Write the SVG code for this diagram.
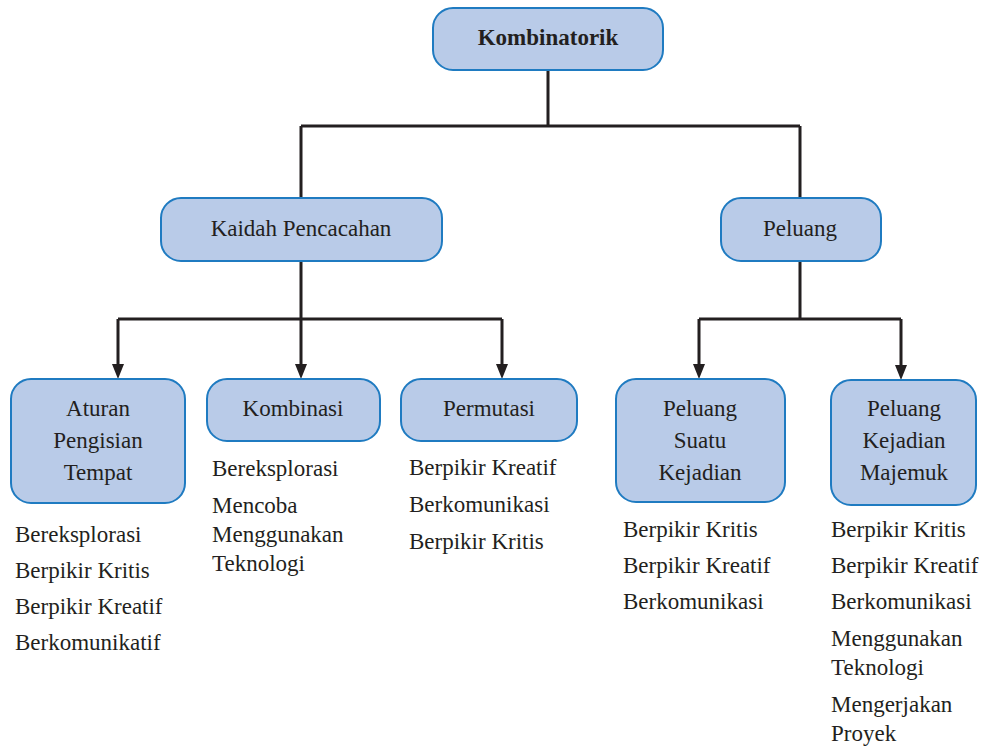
<svg xmlns="http://www.w3.org/2000/svg" width="993" height="747" viewBox="0 0 993 747">
<style>
.box{fill:#b9cbe8;stroke:#1f7bc1;stroke-width:2}
.ln{fill:none;stroke:#231f20;stroke-width:3}
</style>
<defs>
<path id="tri" d="M-6,-15 L6,-15 L0,0 Z" fill="#231f20"/>
</defs>
<rect width="993" height="747" fill="#fff"/>
<g id="connectors">
<path class="ln" d="M548,70 V126 M301,126 H800 M301,126 V198 M800,126 V198"/>
<path class="ln" d="M301,261 V319 M118,319 H502 M118,319 V366 M301,319 V366 M502,319 V366"/>
<path class="ln" d="M800,261 V319 M699,319 H901 M699,319 V366 M901,319 V366"/>
<use href="#tri" x="118" y="379"/>
<use href="#tri" x="301" y="379"/>
<use href="#tri" x="502" y="379"/>
<use href="#tri" x="699" y="379"/>
<use href="#tri" x="901" y="380"/>
</g>
<g id="kombinatorik">
<rect class="box" x="433" y="8" width="230" height="62" rx="20"/>
<text x="548" y="45" text-anchor="middle" font-weight="bold" font-family="Liberation Serif" font-size="23" fill="#231f20">Kombinatorik</text>
</g>
<g id="kaidah">
<rect class="box" x="161" y="198" width="281" height="63" rx="20"/>
<text x="301" y="236" text-anchor="middle" font-family="Liberation Serif" font-size="23" fill="#231f20">Kaidah Pencacahan</text>
</g>
<g id="peluang">
<rect class="box" x="721" y="198" width="160" height="63" rx="20"/>
<text x="800" y="236" text-anchor="middle" font-family="Liberation Serif" font-size="23" fill="#231f20">Peluang</text>
</g>
<g id="aturan">
<rect class="box" x="11" y="379" width="174" height="124" rx="20"/>
<text x="98" y="416" text-anchor="middle" font-family="Liberation Serif" font-size="23" fill="#231f20">Aturan</text>
<text x="98" y="448" text-anchor="middle" font-family="Liberation Serif" font-size="23" fill="#231f20">Pengisian</text>
<text x="98" y="480" text-anchor="middle" font-family="Liberation Serif" font-size="23" fill="#231f20">Tempat</text>
<text x="15" y="542" font-family="Liberation Serif" font-size="23" fill="#231f20">Bereksplorasi</text>
<text x="15" y="578" font-family="Liberation Serif" font-size="23" fill="#231f20">Berpikir Kritis</text>
<text x="15" y="614" font-family="Liberation Serif" font-size="23" fill="#231f20">Berpikir Kreatif</text>
<text x="15" y="650" font-family="Liberation Serif" font-size="23" fill="#231f20">Berkomunikatif</text>
</g>
<g id="kombinasi">
<rect class="box" x="207" y="379" width="173" height="62" rx="20"/>
<text x="293" y="416" text-anchor="middle" font-family="Liberation Serif" font-size="23" fill="#231f20">Kombinasi</text>
<text x="212" y="476" font-family="Liberation Serif" font-size="23" fill="#231f20">Bereksplorasi</text>
<text x="212" y="513" font-family="Liberation Serif" font-size="23" fill="#231f20">Mencoba</text>
<text x="212" y="542" font-family="Liberation Serif" font-size="23" fill="#231f20">Menggunakan</text>
<text x="212" y="571" font-family="Liberation Serif" font-size="23" fill="#231f20">Teknologi</text>
</g>
<g id="permutasi">
<rect class="box" x="401" y="379" width="176" height="62" rx="20"/>
<text x="489" y="416" text-anchor="middle" font-family="Liberation Serif" font-size="23" fill="#231f20">Permutasi</text>
<text x="409" y="475" font-family="Liberation Serif" font-size="23" fill="#231f20">Berpikir Kreatif</text>
<text x="409" y="512" font-family="Liberation Serif" font-size="23" fill="#231f20">Berkomunikasi</text>
<text x="409" y="549" font-family="Liberation Serif" font-size="23" fill="#231f20">Berpikir Kritis</text>
</g>
<g id="suatu">
<rect class="box" x="616" y="379" width="169" height="123" rx="20"/>
<text x="700" y="416" text-anchor="middle" font-family="Liberation Serif" font-size="23" fill="#231f20">Peluang</text>
<text x="700" y="448" text-anchor="middle" font-family="Liberation Serif" font-size="23" fill="#231f20">Suatu</text>
<text x="700" y="480" text-anchor="middle" font-family="Liberation Serif" font-size="23" fill="#231f20">Kejadian</text>
<text x="623" y="537" font-family="Liberation Serif" font-size="23" fill="#231f20">Berpikir Kritis</text>
<text x="623" y="573" font-family="Liberation Serif" font-size="23" fill="#231f20">Berpikir Kreatif</text>
<text x="623" y="609" font-family="Liberation Serif" font-size="23" fill="#231f20">Berkomunikasi</text>
</g>
<g id="majemuk">
<rect class="box" x="831" y="380" width="145" height="125" rx="20"/>
<text x="904" y="416" text-anchor="middle" font-family="Liberation Serif" font-size="23" fill="#231f20">Peluang</text>
<text x="904" y="448" text-anchor="middle" font-family="Liberation Serif" font-size="23" fill="#231f20">Kejadian</text>
<text x="904" y="480" text-anchor="middle" font-family="Liberation Serif" font-size="23" fill="#231f20">Majemuk</text>
<text x="831" y="537" font-family="Liberation Serif" font-size="23" fill="#231f20">Berpikir Kritis</text>
<text x="831" y="573" font-family="Liberation Serif" font-size="23" fill="#231f20">Berpikir Kreatif</text>
<text x="831" y="609" font-family="Liberation Serif" font-size="23" fill="#231f20">Berkomunikasi</text>
<text x="831" y="646" font-family="Liberation Serif" font-size="23" fill="#231f20">Menggunakan</text>
<text x="831" y="675" font-family="Liberation Serif" font-size="23" fill="#231f20">Teknologi</text>
<text x="831" y="712" font-family="Liberation Serif" font-size="23" fill="#231f20">Mengerjakan</text>
<text x="831" y="741" font-family="Liberation Serif" font-size="23" fill="#231f20">Proyek</text>
</g>
</svg>
